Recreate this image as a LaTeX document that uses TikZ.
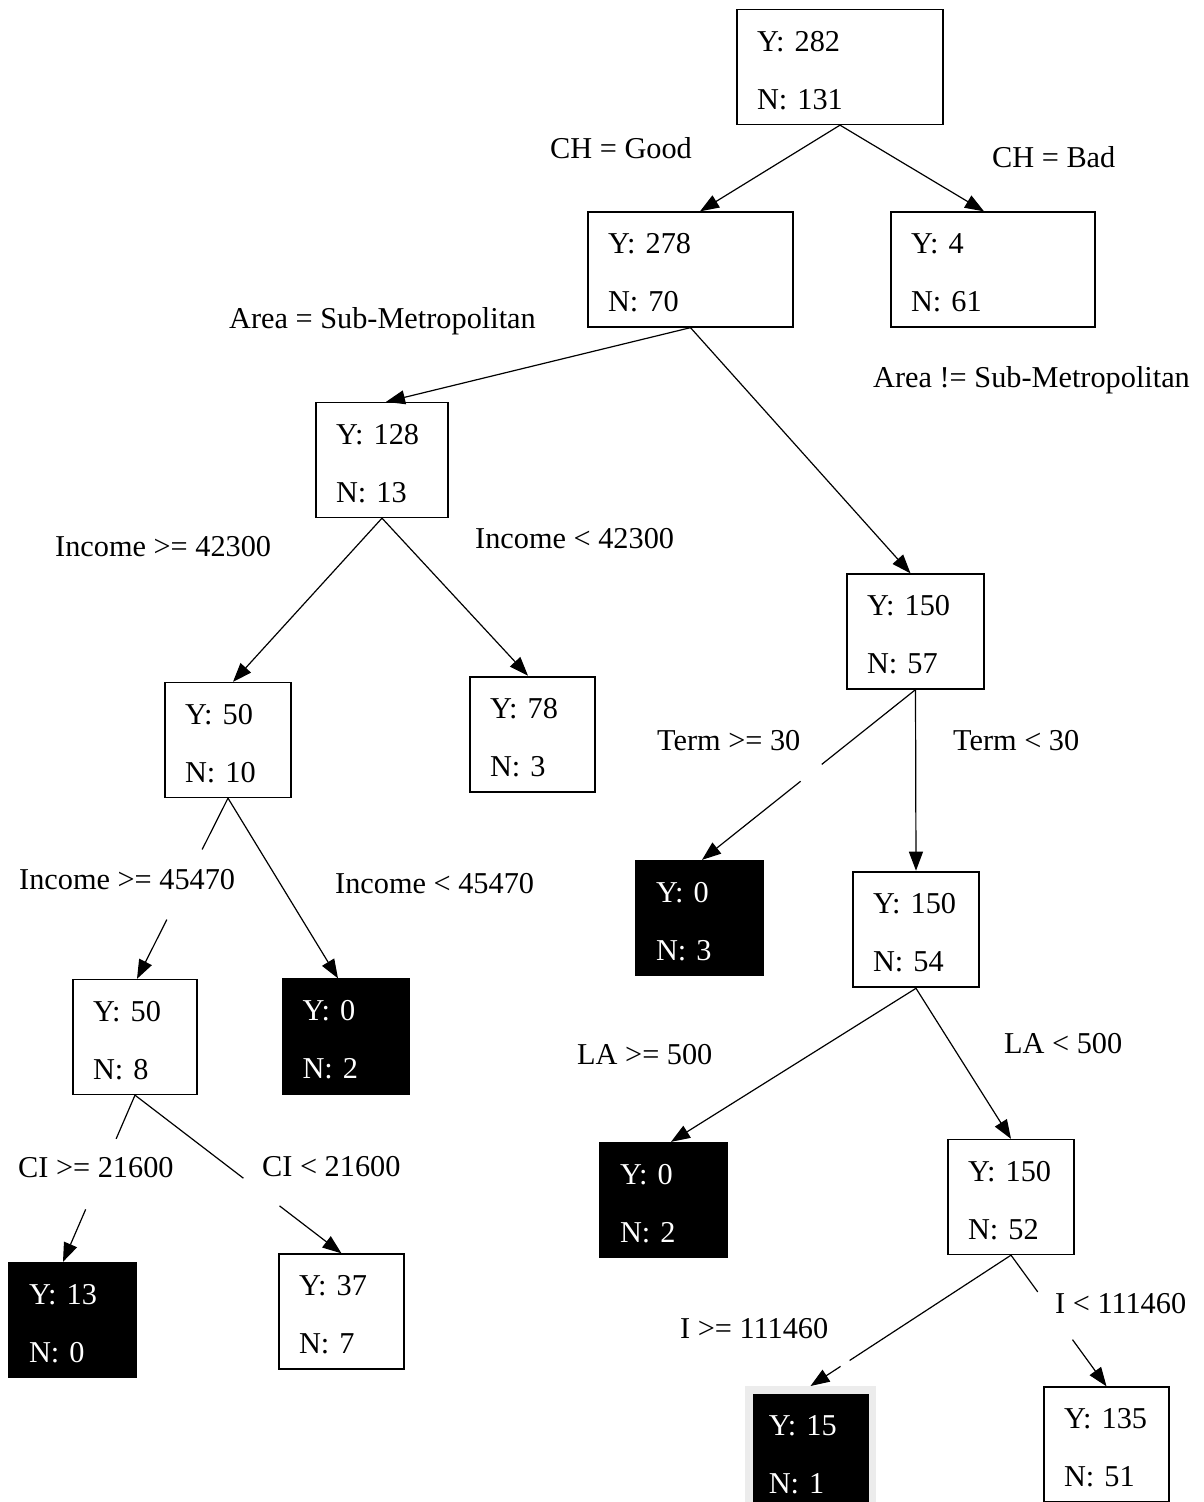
\documentclass[tikz,border=0pt]{standalone}
\usepackage{fontspec}
\setmainfont{Liberation Serif}
\usetikzlibrary{arrows.meta,calc}
\definecolor{frame}{RGB}{236,236,236}
\newcommand{\topstrut}{\rule{0pt}{26.5pt}}
\begin{document}
\begin{tikzpicture}[x=1pt,y=-1pt,
  every node/.style={font=\fontsize{30.3}{58}\selectfont},
  box/.style={draw, line width=1.3pt, minimum height=115pt, inner xsep=20pt,
    inner ysep=0pt, align=left, text width=#1},
  thick box/.style={box=#1, line width=2.6pt},
  dark box/.style={box=#1, fill=black, text=white},
  lab/.style={anchor=base west, inner sep=0pt},
  line/.style={line width=1.2pt},
  edge/.style={line width=1.2pt, -{Triangle[length=19pt,width=14pt]}}]
\useasboundingbox (0,0) rectangle (1203,1502);
\clip (0,0) rectangle (1203,1502);
\fill[white] (0,0) rectangle (1203,1502);

% boxes
\node[box=166pt] (root) at (840,67) {\topstrut Y: 282\\N: 131};
\node[box=165pt] (n278) at (690.5,269.5) {\topstrut Y: 278\\N: 70};
\node[box=164pt] (n4) at (993,269.5) {\topstrut Y: 4\\N: 61};
\node[box=92pt] (n128) at (382,460) {\topstrut Y: 128\\N: 13};
\node[box=97pt] (n150a) at (915.5,631.5) {\topstrut Y: 150\\N: 57};
\node[box=86pt] (n50a) at (228,740) {\topstrut Y: 50\\N: 10};
\node[thick box=85pt] (n78) at (532.5,734.5) {\topstrut Y: 78\\N: 3};
\node[dark box=87pt] (n0a) at (699.5,918) {\topstrut Y: 0\\N: 3};
\node[thick box=86pt] (n150b) at (916,929.5) {\topstrut Y: 150\\N: 54};
\node[box=84pt] (n50b) at (135,1037) {\topstrut Y: 50\\N: 8};
\node[dark box=87pt] (n0b) at (346,1036.5) {\topstrut Y: 0\\N: 2};
\node[dark box=87pt] (n0c) at (663.5,1200) {\topstrut Y: 0\\N: 2};
\node[box=86pt] (n150c) at (1011,1197) {\topstrut Y: 150\\N: 52};
\node[dark box=87pt] (n13) at (72.5,1320) {\topstrut Y: 13\\N: 0};
\node[box=85pt] (n37) at (341.5,1311.5) {\topstrut Y: 37\\N: 7};
\node[dark box=83.5pt, draw=frame, line width=7.5pt, minimum height=123.5pt] (n15) at (810.5,1451.5) {\topstrut Y: 15\\N: 1};
\node[box=85pt] (n135) at (1106.5,1444.5) {\topstrut Y: 135\\N: 51};

% connectors
\draw[edge] (root.south) -- ([xshift=9.5pt]n278.north);
\draw[edge] (root.south) -- ([xshift=-9pt]n4.north);
\draw[edge] (n278.south) -- ([xshift=4pt]n128.north);
\draw[edge] (n278.south) -- ([xshift=-5pt]n150a.north);
\draw[edge] (n128.south) -- ([xshift=5pt]n50a.north);
\draw[edge] (n128.south) -- ([xshift=-4.5pt]n78.north);
\draw[line] (n150a.south) -- ($(n150a.south)!0.439!([xshift=2.5pt]n0a.north)$);
\draw[edge] ($(n150a.south)!0.538!([xshift=2.5pt]n0a.north)$) -- ([xshift=2.5pt]n0a.north);
\draw[edge] (n150a.south) -- (n150b.north);
\draw[line] (n50a.south) -- ($(n50a.south)!0.284!([xshift=2pt]n50b.north)$);
\draw[edge] ($(n50a.south)!0.672!([xshift=2pt]n50b.north)$) -- ([xshift=2pt]n50b.north);
\draw[edge] (n50a.south) -- ([xshift=-8pt]n0b.north);
\draw[edge] (n150b.south) -- ([xshift=7.5pt]n0c.north);
\draw[edge] (n150b.south) -- (n150c.north);
\draw[line] (n50b.south) -- ($(n50b.south)!0.262!([xshift=-9.5pt]n13.north)$);
\draw[edge] ($(n50b.south)!0.685!([xshift=-9.5pt]n13.north)$) -- ([xshift=-9.5pt]n13.north);
\draw[line] (n50b.south) -- ($(n50b.south)!0.525!(n37.north)$);
\draw[edge] ($(n50b.south)!0.70!(n37.north)$) -- (n37.north);
\draw[line] (n150c.south) -- ($(n150c.south)!0.805!(n15.north)$);
\draw[edge] ($(n150c.south)!0.85!(n15.north)$) -- (n15.north);
\draw[line] (n150c.south) -- ($(n150c.south)!0.28!(n135.north)$);
\draw[edge] ($(n150c.south)!0.644!(n135.north)$) -- (n135.north);

% labels
\node[lab] (l1) at (550,158) {CH = Good};
\node[lab] (l2) at (992,167) {CH = Bad};
\node[lab] (l3) at (229,328) {Area = Sub-Metropolitan};
\node[lab] (l4) at (873,387) {Area != Sub-Metropolitan};
\node[lab] (l5) at (55,556) {Income >= 42300};
\node[lab] (l6) at (475,548) {Income < 42300};
\node[lab] (l7) at (657,750) {Term >= 30};
\node[lab] (l8) at (953,750) {Term < 30};
\node[lab] (l9) at (19,889) {Income >= 45470};
\node[lab] (l10) at (335,893) {Income < 45470};
\node[lab] (l11) at (577,1064) {LA >= 500};
\node[lab] (l12) at (1004,1053) {LA < 500};
\node[lab] (l13) at (18,1177) {CI >= 21600};
\node[lab] (l14) at (262,1176) {CI < 21600};
\node[lab] (l15) at (680,1338) {I >= 111460};
\node[lab] (l16) at (1055,1313) {I < 111460};
\end{tikzpicture}
\end{document}
